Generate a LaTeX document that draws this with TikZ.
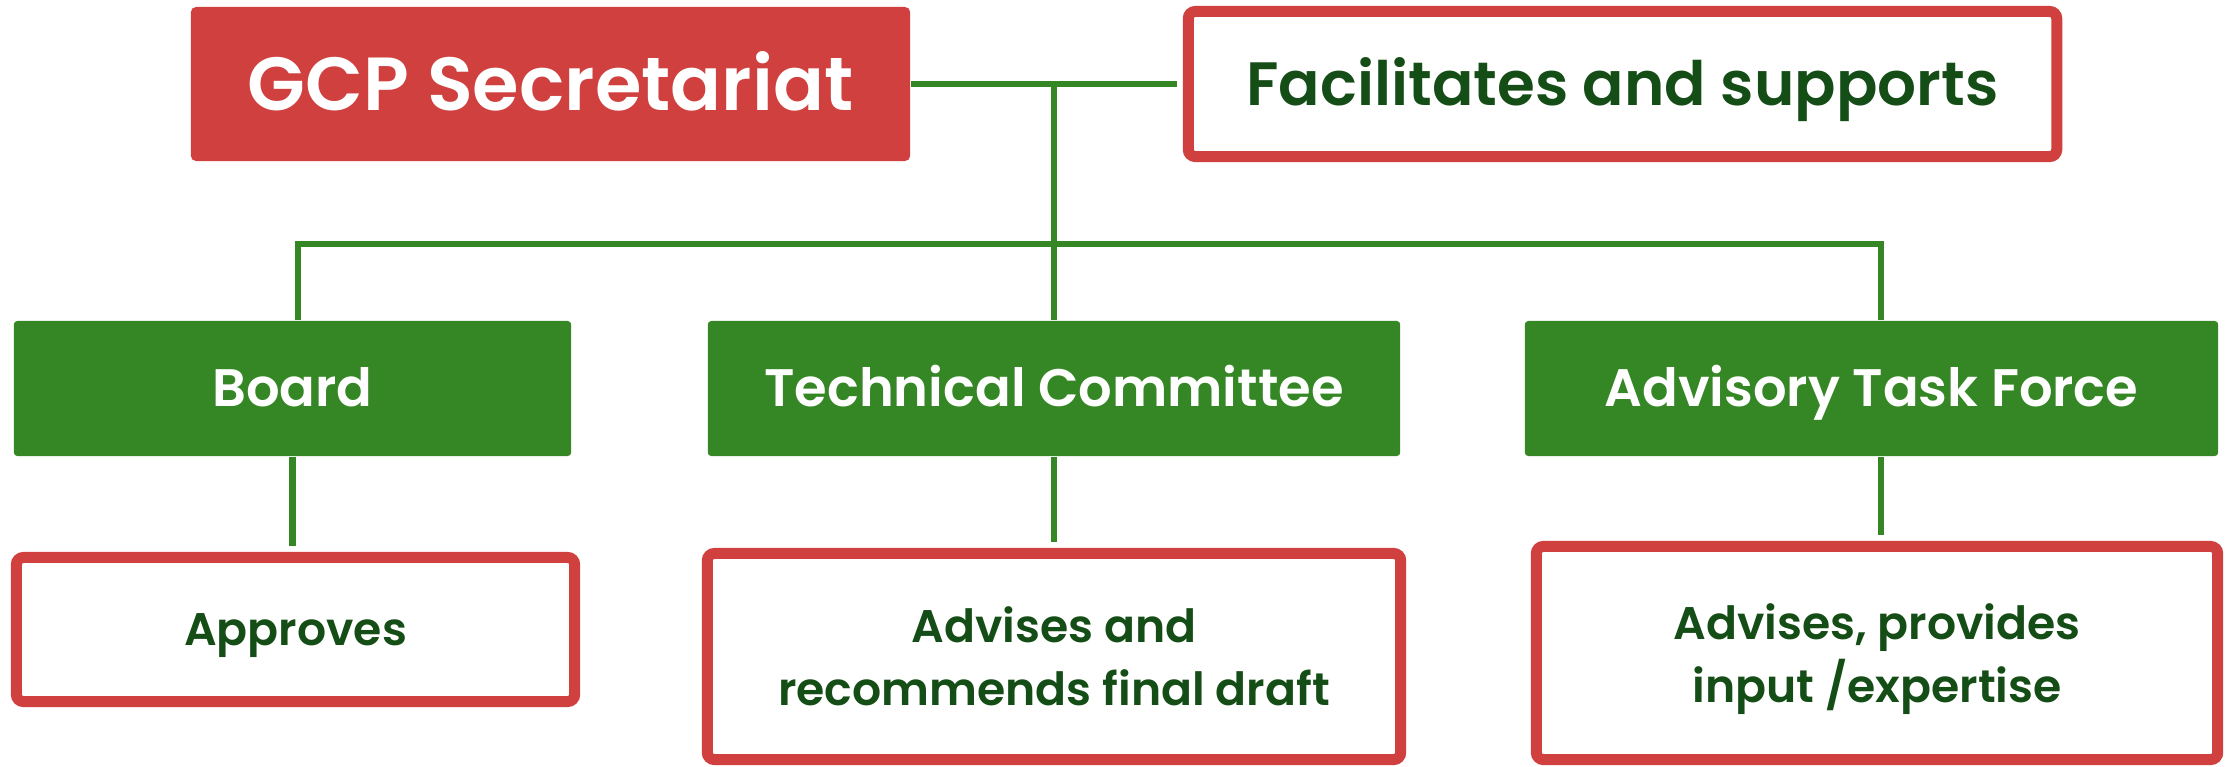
\documentclass[tikz,border=0pt]{standalone}
\usepackage{fontspec}
\setmainfont{Poppins}
\newfontfamily\semifont{Poppins SemiBold}
\usetikzlibrary{calc}
\usepackage{xcolor}

\definecolor{gcpred}{RGB}{207,64,63}
\definecolor{gcpgreen}{RGB}{53,134,36}
\definecolor{gcpdark}{RGB}{21,77,22}

\begin{document}
\begin{tikzpicture}[x=0.01cm,y=-0.01cm,
  redbox/.style={fill=gcpred,text=white,inner sep=0pt,rounded corners=1.5pt,
    font=\semifont\fontsize{21.4}{25}\selectfont,text height=15pt,text depth=0pt},
  greenbox/.style={fill=gcpgreen,text=white,inner sep=0pt,rounded corners=1pt,
    minimum height=1.35cm,font=\semifont\fontsize{15}{18}\selectfont,
    text height=10.5pt,text depth=0pt},
  notebox/.style={draw=gcpred,line width=0.11cm,fill=white,text=gcpdark,
    inner sep=0pt,rounded corners=2pt,align=center,text depth=0pt,
    font=\semifont\fontsize{13}{17.9}\selectfont},
  link/.style={draw=gcpgreen,line width=0.065cm}]
\useasboundingbox (0,0) rectangle (2231,766);

% top row
\node[redbox,minimum width=7.19cm,minimum height=1.54cm] (sec) at (550.5,84) {GCP Secretariat};
\node[notebox,minimum width=8.68cm,minimum height=1.45cm,
  font=\semifont\fontsize{17.4}{21}\selectfont,text height=12.2pt] (fac) at (1622.5,84) {Facilitates and supports};

% groups
\node[greenbox,minimum width=5.57cm] (board) at (292.5,388.5) {Board};
\node[greenbox,minimum width=6.92cm] (tc) at (1054,388.5) {Technical Committee};
\node[greenbox,minimum width=6.93cm] (atf) at (1871.5,388.5) {Advisory Task Force};

% roles
\node[notebox,minimum width=5.58cm,minimum height=1.44cm,text height=9.1pt] (appr) at (295.5,629.5) {Approves};
\node[notebox,minimum width=6.93cm,minimum height=2.06cm] (tcnote) at (1054,656.5) {Advises and\\recommends final draft};
\node[notebox,minimum width=6.81cm,minimum height=2.13cm] (atfnote) at (1877,653) {Advises, provides\\input /expertise};

\coordinate (hub) at (sec.east -| tc.north);
\coordinate (bus) at (1054,244);

\draw[link,shorten >=0.055cm] (sec.east) -- (fac.west);
\draw[link] (hub) -- (tc.north);
\draw[link] ([xshift=0.055cm]board.north) |- (bus) -| ([xshift=0.095cm]atf.north);

\draw[link,shorten >=0.055cm] (board.south) -- (board.south |- appr.north);
\draw[link,shorten >=0.055cm] (tc.south) -- (tcnote.north);
\draw[link,shorten >=0.055cm] ([xshift=0.095cm]atf.south) -- ([xshift=0.095cm]atf.south |- atfnote.north);

\end{tikzpicture}
\end{document}
